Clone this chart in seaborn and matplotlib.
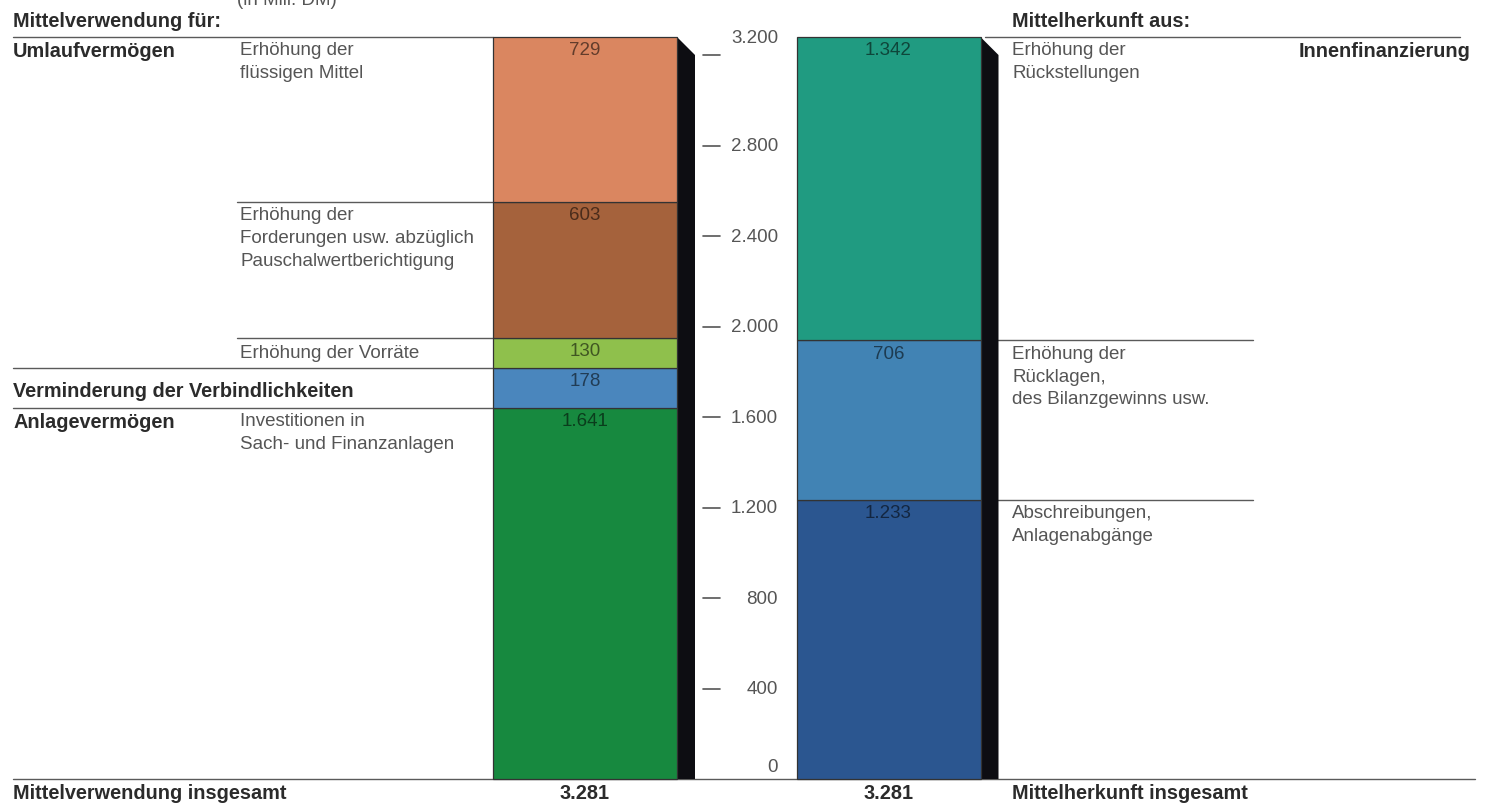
import matplotlib
matplotlib.use("Agg")
import matplotlib.pyplot as plt
import pandas as pd
import seaborn as sns

# ---- data (Mill. DM) ----
sides = ["Mittelverwendung", "Mittelherkunft"]

use_items = ["Investitionen", "Verbindlichkeiten", "Vorräte", "Forderungen", "Flüssige Mittel"]
use_values = [1641, 178, 130, 603, 729]
use_colors = ["#17893f", "#4a86bd", "#8fc04c", "#a5623c", "#da8660"]

source_items = ["Abschreibungen", "Rücklagen", "Rückstellungen"]
source_values = [1233, 706, 1342]
source_colors = ["#2b5690", "#4183b4", "#209b81"]

axis_ticks = [0, 400, 800, 1200, 1600, 2000, 2400, 2800, 3200]


def de(n):
    return f"{n:,}".replace(",", ".")


rows = []
for side, items, values, colors in [(sides[0], use_items, use_values, use_colors),
                                    (sides[1], source_items, source_values, source_colors)]:
    base = 0
    for it, v, c in zip(items, values, colors):
        rows.append(dict(side=side, item=it, value=v, bottom=base, color=c))
        base += v
df = pd.DataFrame(rows)
totals = df.groupby("side", sort=False)["value"].sum()

# ---- figure ----
sns.set_theme(style="white")
plt.rcParams["font.family"] = ["Liberation Sans", "DejaVu Sans"]

W, H = 1485, 804
fig = plt.figure(figsize=(W / 100, H / 100), dpi=100)
ax = fig.add_axes([0, 0, 1, 1])

UNIT = 303.5          # pixels between the two bar centres
X0 = 585              # pixel position of the first bar centre
BAR_W = 184 / UNIT
BASE_PX = 780         # pixel row of the zero line
TOP_PX = 38           # pixel row of the bar tops
grand = float(max(totals))
PX_PER_VAL = (BASE_PX - TOP_PX) / grand

FS_REG = 13.5
FS_BOLD = 14.3
FS_NUM = 13.5
LS = 1.45


def xd(px):
    return (px - X0) / UNIT


def xf(px):
    return px / W


def fy(py):
    return 1 - py / H


BOLD = "#2b2b2b"
GREY = "#555555"
RULE = "#5a5a5a"

for r in df.itertuples():
    sns.barplot(data=df[df["item"] == r.item], x="side", y="value", order=sides,
                color=r.color, saturation=1, bottom=r.bottom, width=BAR_W,
                edgecolor="#333333", linewidth=0.9, errorbar=None, ax=ax, zorder=3)
    i = sides.index(r.side)
    ax.annotate(de(r.value), xy=(i, r.bottom + r.value), xytext=(0, -3),
                textcoords="offset points", ha="center", va="top",
                fontsize=FS_NUM, color="black", alpha=0.55, zorder=5)

# black side shadow with a bevelled top
SW = 18 / UNIT
SD = 18 / PX_PER_VAL
for i, s in enumerate(sides):
    T = totals[s]
    R = i + BAR_W / 2
    ax.fill([R, R + SW, R + SW, R], [T, T - SD, 0, 0], color="#0d0d12", lw=0, zorder=2)

ax.set_axis_off()
ax.set_xlim(xd(0), xd(W))
ax.set_ylim(-(H - BASE_PX) / PX_PER_VAL, BASE_PX / PX_PER_VAL)

# value scale between the bars
for t in axis_ticks:
    if t > 0:
        ax.plot([xd(703), xd(720)], [t, t], color=GREY, lw=1.2, zorder=4)
    lift = 18 if t == axis_ticks[-1] else 0
    ax.annotate(de(t), xy=(xd(778), t), xytext=(0, lift * 0.72 + (3 if t == 0 else 0)),
                textcoords="offset points", ha="right",
                va="bottom" if t == 0 else "center", fontsize=FS_NUM, color=GREY)

# horizontal rules
cum_use = df[df.side == sides[0]].assign(top=lambda d: d.bottom + d.value)
cum_src = df[df.side == sides[1]].assign(top=lambda d: d.bottom + d.value)
ut = dict(zip(cum_use["item"], cum_use["top"]))
st = dict(zip(cum_src["item"], cum_src["top"]))

left_rules = [(ut["Flüssige Mittel"], 13), (ut["Forderungen"], 237), (ut["Vorräte"], 237),
              (ut["Verbindlichkeiten"], 13), (ut["Investitionen"], 13)]
for y, x0 in left_rules:
    ax.plot([xd(x0), xd(493)], [y, y], color=RULE, lw=1, zorder=1)
right_rules = [(st["Rückstellungen"], 1460), (st["Rücklagen"], 1253), (st["Abschreibungen"], 1253)]
for y, x1 in right_rules:
    ax.plot([xd(985), xd(x1)], [y, y], color=RULE, lw=1, zorder=1)
ax.plot([xd(13), xd(1475)], [0, 0], color=RULE, lw=1, zorder=1)


def seg_label(text, px, y, bold=False, dy=-3, va="top", ha="left"):
    ax.annotate(text, xy=(xf(px), y), xycoords=("axes fraction", "data"),
                xytext=(0, dy), textcoords="offset points", ha=ha, va=va,
                fontsize=FS_BOLD if bold else FS_REG, color=BOLD if bold else GREY,
                fontweight="bold" if bold else "normal", linespacing=LS)


# left-hand captions
fig.text(xf(237), fy(9), "(in Mill. DM)", fontsize=FS_REG, color=GREY, va="bottom")
fig.text(xf(13), fy(27), "Mittelverwendung für:", fontsize=FS_BOLD, color=BOLD,
         fontweight="bold", va="baseline")
seg_label("Umlaufvermögen", 13, ut["Flüssige Mittel"], bold=True)
seg_label("Erhöhung der\nflüssigen Mittel", 240, ut["Flüssige Mittel"])
seg_label("Erhöhung der\nForderungen usw. abzüglich\nPauschalwertberichtigung", 240,
          ut["Forderungen"])
seg_label("Erhöhung der Vorräte", 240, ut["Vorräte"] - 130 / 2, va="center", dy=0)
seg_label("Verminderung der Verbindlichkeiten", 13, ut["Verbindlichkeiten"] - 178 / 2,
          bold=True, va="center", dy=-2)
seg_label("Anlagevermögen", 13, ut["Investitionen"], bold=True)
seg_label("Investitionen in\nSach- und Finanzanlagen", 240, ut["Investitionen"])

# right-hand captions
fig.text(xf(1012), fy(27), "Mittelherkunft aus:", fontsize=FS_BOLD, color=BOLD,
         fontweight="bold", va="baseline")
seg_label("Erhöhung der\nRückstellungen", 1012, st["Rückstellungen"])
seg_label("Innenfinanzierung", 1470, st["Rückstellungen"], bold=True, ha="right")
seg_label("Erhöhung der\nRücklagen,\ndes Bilanzgewinns usw.", 1012, st["Rücklagen"])
seg_label("Abschreibungen,\nAnlagenabgänge", 1012, st["Abschreibungen"])

# totals row
fig.text(xf(13), fy(794), "Mittelverwendung insgesamt", fontsize=FS_BOLD, color=BOLD,
         fontweight="bold", va="center")
fig.text(xf(1012), fy(794), "Mittelherkunft insgesamt", fontsize=FS_BOLD, color=BOLD,
         fontweight="bold", va="center")
for i, s in enumerate(sides):
    ax.annotate(de(int(totals[s])), xy=(i, 0), xytext=(0, -14 * 0.72),
                textcoords="offset points", ha="center", va="center",
                fontsize=FS_BOLD, color=BOLD, fontweight="bold")

fig.savefig("out.png", dpi=100, facecolor="white")
